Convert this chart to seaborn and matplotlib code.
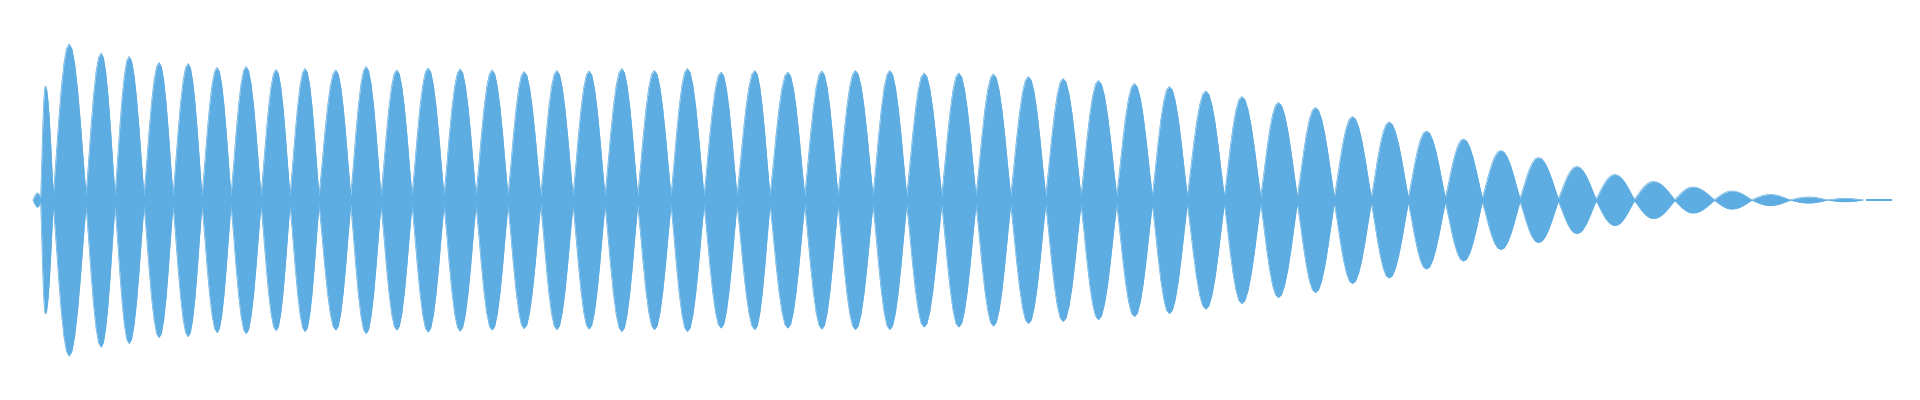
"""Forma de onda (envelope) desenhada como area espelhada em torno do zero."""

import matplotlib

matplotlib.use("Agg")

import matplotlib.pyplot as plt
import numpy as np
import seaborn as sns

COR = "#5DADE2"

# cruzamentos de zero entre os lobulos (coluna da amostra)
lobe_edges = [
    33, 40.7, 53.3, 86, 115, 144, 173, 202, 231, 261, 290, 319, 350.7, 381,
    412, 444, 476, 508, 540.7, 573, 605, 637.7, 671, 704, 737, 770, 804.7,
    838, 873, 906.7, 941.7, 976, 1010.7, 1045.7, 1081, 1116.7, 1152.3,
    1187.3, 1224.3, 1260.7, 1297.3, 1334.3, 1371.3, 1408.3, 1445.3, 1482.3,
    1520, 1558.3, 1596, 1634.3, 1674.7, 1714.3, 1751.7, 1790, 1827.3, 1863,
]

# posicao do pico de cada lobulo
lobe_peak_x = [
    37.5, 45.3, 69, 101, 129, 159, 188, 217, 246, 276, 305, 335.7, 366,
    396.7, 428, 460, 492, 524, 556.7, 589, 621.7, 654.3, 687.3, 721, 754.7,
    787.7, 821.7, 855.3, 889.7, 924, 958.7, 993.3, 1028.3, 1063, 1098.3,
    1134.3, 1169.3, 1205.7, 1241.7, 1278.3, 1315.3, 1352.3, 1389, 1426.3,
    1463.3, 1500.7, 1538.3, 1576.7, 1614.7, 1653.3, 1692.7, 1731.7, 1770,
    1808.3, 1845,
]

# amplitude de pico de cada lobulo
lobe_peak_amp = [
    7, 114, 156, 147, 143.5, 137.5, 136.5, 132.5, 133.5, 130.5, 131.5, 130,
    133.5, 130, 132, 131, 130, 128.5, 129.5, 129, 131.5, 129.5, 131.5, 128,
    129.5, 128, 129, 129.5, 129.5, 127, 127, 126, 123.5, 121.5, 119.5, 116.5,
    113.5, 109, 103.5, 97.5, 92.5, 83.5, 78, 69, 61, 49.5, 42.5, 33.5, 25.5,
    18.5, 13, 9, 5.5, 3, 1.7,
]

# forma da subida de um lobulo (fracao do pico)
rise_profile = [0.035, 0.26, 0.5, 0.71, 0.87, 0.97, 1.0]

# cauda final quase plana
tail_x = [1866, 1892]
tail_amp = [0.7, 0.7]

xs, ys = [], []
for i, amp in enumerate(lobe_peak_amp):
    z0, z1, px = lobe_edges[i], lobe_edges[i + 1], lobe_peak_x[i]
    subida = np.linspace(z0, px, len(rise_profile))
    descida = np.linspace(px, z1, len(rise_profile))
    perfil = np.array(rise_profile)
    xs.extend(subida[:-1])
    ys.extend(amp * perfil[:-1])
    xs.extend(descida[:-1])
    ys.extend(amp * perfil[::-1][:-1])
xs.append(lobe_edges[-1])
ys.append(lobe_peak_amp[-1] * rise_profile[0])

x = np.array(xs)
y = np.array(ys)

fig = plt.figure(figsize=(19.2, 4), dpi=100)
ax = fig.add_axes([0, 0, 1, 1])

ax.fill_between(x, -y, y, color=COR, linewidth=0)
sns.lineplot(x=x, y=y, color=COR, linewidth=0.5, estimator=None, sort=False, ax=ax)
sns.lineplot(x=x, y=-y, color=COR, linewidth=0.5, estimator=None, sort=False, ax=ax)
ax.fill_between(tail_x, -np.array(tail_amp), tail_amp, color=COR, linewidth=0)

ax.set_xlim(0, 1920)
ax.set_ylim(-200, 200)
ax.axis("off")

fig.savefig("out.png", dpi=100, facecolor="white")
plt.close(fig)
